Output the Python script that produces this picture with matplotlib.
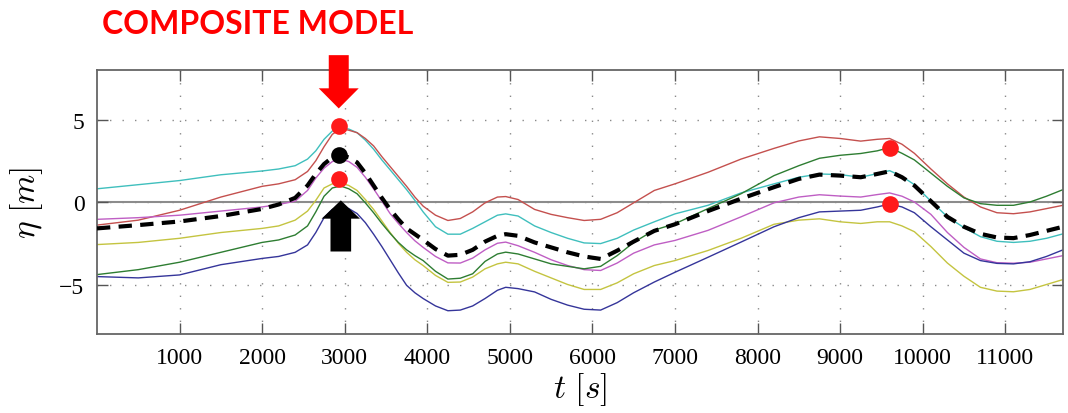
import matplotlib
matplotlib.use("Agg")
import matplotlib.pyplot as plt
from matplotlib.patches import FancyArrow

# sample times [s]
t = [0, 500, 1000, 1500, 2000,
     2200, 2400, 2550, 2650, 2750,
     2850, 2950, 3050, 3150, 3250,
     3350, 3450, 3550, 3650, 3750,
     3850, 3950, 4100, 4250, 4400,
     4550, 4700, 4850, 4950, 5100,
     5300, 5500, 5700, 5900, 6100,
     6300, 6500, 6750, 7000, 7400,
     7800, 8200, 8500, 8750, 9000,
     9250, 9450, 9600, 9750, 9900,
     10100, 10300, 10500, 10700, 10900,
     11100, 11300, 11500, 11700]

# surface elevation eta [m] of the individual source models
eta_cyan = [0.8, 1.05, 1.3, 1.65, 1.88,
            2.0, 2.2, 2.6, 3.1, 3.8,
            4.3, 4.5, 4.42, 4.2, 3.75,
            3.2, 2.55, 1.95, 1.35, 0.75,
            0.1, -0.6, -1.5, -1.95, -1.95,
            -1.6, -1.2, -0.8, -0.72, -0.85,
            -1.45, -1.85, -2.2, -2.48, -2.52,
            -2.2, -1.7, -1.2, -0.72, -0.2,
            0.55, 1.1, 1.5, 1.7, 1.66,
            1.5, 1.72, 1.9, 1.55, 1.05,
            0.05, -0.9, -1.55, -2.1, -2.38,
            -2.45, -2.38, -2.2, -1.93]
eta_red = [-1.4, -1.1, -0.5, 0.3, 0.95,
           1.1, 1.35, 1.85, 2.5, 3.35,
           4.1, 4.45, 4.35, 4.2, 3.85,
           3.4, 2.75, 2.15, 1.55, 0.95,
           0.3, -0.25, -0.8, -1.12, -1.0,
           -0.6, -0.05, 0.3, 0.33, 0.15,
           -0.45, -0.75, -0.95, -1.12, -1.05,
           -0.65, -0.05, 0.7, 1.1, 1.8,
           2.6, 3.25, 3.7, 3.95, 3.85,
           3.69, 3.8, 3.85, 3.5, 2.95,
           2.0, 1.1, 0.3, -0.3, -0.65,
           -0.71, -0.6, -0.4, -0.2]
eta_magenta = [-1.05, -0.95, -0.8, -0.55, -0.3,
               -0.15, 0.05, 0.7, 1.45, 2.05,
               2.45, 2.6, 2.45, 2.1, 1.5,
               0.8, 0.05, -0.7, -1.3, -1.85,
               -2.35, -2.75, -3.3, -3.69, -3.7,
               -3.4, -2.9, -2.5, -2.43, -2.65,
               -3.05, -3.5, -3.85, -4.1, -4.15,
               -3.7, -3.1, -2.6, -2.33, -1.72,
               -0.9, -0.05, 0.3, 0.44, 0.36,
               0.3, 0.45, 0.55, 0.35, 0.0,
               -0.75, -1.85, -2.75, -3.45, -3.68,
               -3.71, -3.65, -3.45, -3.25]
eta_yellow = [-2.58, -2.45, -2.2, -1.85, -1.6,
              -1.45, -1.1, -0.55, 0.1, 0.85,
              1.1, 1.15, 1.0, 0.7, 0.15,
              -0.45, -1.15, -1.85, -2.5, -3.05,
              -3.5, -3.85, -4.45, -4.87, -4.85,
              -4.55, -4.05, -3.75, -3.65, -3.75,
              -4.2, -4.6, -5.0, -5.3, -5.3,
              -4.9, -4.35, -3.85, -3.55, -2.94,
              -2.2, -1.35, -1.1, -1.02, -1.2,
              -1.3, -1.2, -1.2, -1.45, -1.8,
              -2.7, -3.7, -4.5, -5.17, -5.4,
              -5.44, -5.3, -5.0, -4.7]
eta_green = [-4.4, -4.1, -3.65, -3.05, -2.45,
             -2.3, -2.0, -1.45, -0.6, 0.35,
             0.85, 0.97, 0.8, 0.5, -0.05,
             -0.65, -1.3, -1.9, -2.45, -2.9,
             -3.25, -3.55, -4.2, -4.67, -4.62,
             -4.35, -3.6, -3.15, -3.04, -3.15,
             -3.45, -3.75, -3.9, -4.05, -3.9,
             -3.25, -2.45, -1.7, -1.32, -0.4,
             0.5, 1.6, 2.2, 2.65, 2.83,
             2.94, 3.1, 3.3, 2.95, 2.55,
             1.75, 0.95, 0.25, -0.1, -0.2,
             -0.2, 0.0, 0.35, 0.75]
eta_blue = [-4.52, -4.6, -4.42, -3.8, -3.42,
            -3.3, -3.05, -2.6, -1.85, -0.95,
            -0.45, -0.3, -0.4, -0.7, -1.25,
            -1.95, -2.7, -3.5, -4.3, -5.05,
            -5.5, -5.85, -6.3, -6.59, -6.55,
            -6.3, -5.85, -5.35, -5.17, -5.25,
            -5.45, -5.9, -6.25, -6.5, -6.55,
            -6.1, -5.5, -4.85, -4.26, -3.35,
            -2.43, -1.5, -0.95, -0.6, -0.55,
            -0.5, -0.3, -0.12, -0.3, -0.65,
            -1.5, -2.3, -3.1, -3.55, -3.72,
            -3.75, -3.62, -3.3, -2.9]

# composite model
eta_composite = [-1.6, -1.4, -1.18, -0.85, -0.42,
                 -0.15, 0.25, 1.0, 1.7, 2.3,
                 2.7, 2.85, 2.7, 2.4, 1.75,
                 1.0, 0.25, -0.45, -1.05, -1.6,
                 -1.95, -2.3, -2.85, -3.25, -3.2,
                 -2.9, -2.4, -2.05, -1.95, -2.05,
                 -2.45, -2.75, -3.05, -3.3, -3.45,
                 -2.95, -2.4, -1.75, -1.35, -0.55,
                 0.2, 0.9, 1.4, 1.66, 1.6,
                 1.5, 1.7, 1.86, 1.5, 1.0,
                 0.05, -0.9, -1.5, -1.93, -2.15,
                 -2.19, -2.0, -1.75, -1.5]

# highlighted peaks
peak_t = [2930, 2930, 9600, 9600]
peak_eta = [4.6, 1.4, 3.3, -0.1]
composite_peak_t = [2930]
composite_peak_eta = [2.85]

x_ticks = [1000, 2000, 3000, 4000, 5000, 6000, 7000, 8000, 9000, 10000, 11000]
y_ticks = [-5, 0, 5]

plt.rcParams["mathtext.fontset"] = "cm"

fig = plt.figure(figsize=(10.68, 4.14), dpi=100)
ax = fig.add_axes([97 / 1068, 1 - 335 / 414, 966 / 1068, 264 / 414])

ax.axhline(0, color="#8c8c8c", lw=1.5, zorder=1)

series = [
    (eta_cyan, "#3fbfbd"),
    (eta_red, "#c4504e"),
    (eta_magenta, "#bf5ec4"),
    (eta_yellow, "#c4c440"),
    (eta_green, "#2e7d32"),
    (eta_blue, "#35359a"),
]
for values, color in series:
    ax.plot(t, values, color=color, lw=1.0, zorder=2)

ax.plot(t, eta_composite, color="black", lw=3.0,
        linestyle=(0, (3.2, 2.0)), zorder=3)

ax.plot(peak_t, peak_eta, "o", color="#ff1a1a", ms=12, mec="none", zorder=5)
ax.plot(composite_peak_t, composite_peak_eta, "o", color="black", ms=12,
        mec="none", zorder=5)

ax.set_xlim(0, 11700)
ax.set_ylim(-8, 8)
ax.set_xticks(x_ticks)
ax.set_yticks(y_ticks)
ax.grid(True, color="#8a8a8a", linestyle=(0, (1, 8)), lw=1.0)
ax.tick_params(direction="in", length=8, width=1.0, color="#555555",
               top=True, right=True, labelsize=17, pad=9)
for lab in ax.get_xticklabels() + ax.get_yticklabels():
    lab.set_fontfamily("Liberation Serif")
for sp in ax.spines.values():
    sp.set_color("#666666")
    sp.set_linewidth(1.3)

ax.set_xlabel(r"$t\ [s]$", fontsize=24, labelpad=2)
ax.set_ylabel(r"$\eta\ [m]$", fontsize=24, labelpad=10)

# arrows pointing at the peak
ax.add_patch(FancyArrow(2928, 8.9, 0, -3.23, width=242, head_width=484,
                        head_length=1.22, length_includes_head=True,
                        color="#ff0000", lw=0, clip_on=False, zorder=6))
ax.add_patch(FancyArrow(2953, -3.0, 0, 3.1, width=250, head_width=464,
                        head_length=1.11, length_includes_head=True,
                        color="black", lw=0, clip_on=False, zorder=6))

fig.text(258 / 1068, 1 - 25 / 414, "COMPOSITE MODEL", color="#ff0000",
         fontsize=23, fontweight="bold", family="Lato",
         ha="center", va="center")

fig.savefig("out.png", dpi=100)
